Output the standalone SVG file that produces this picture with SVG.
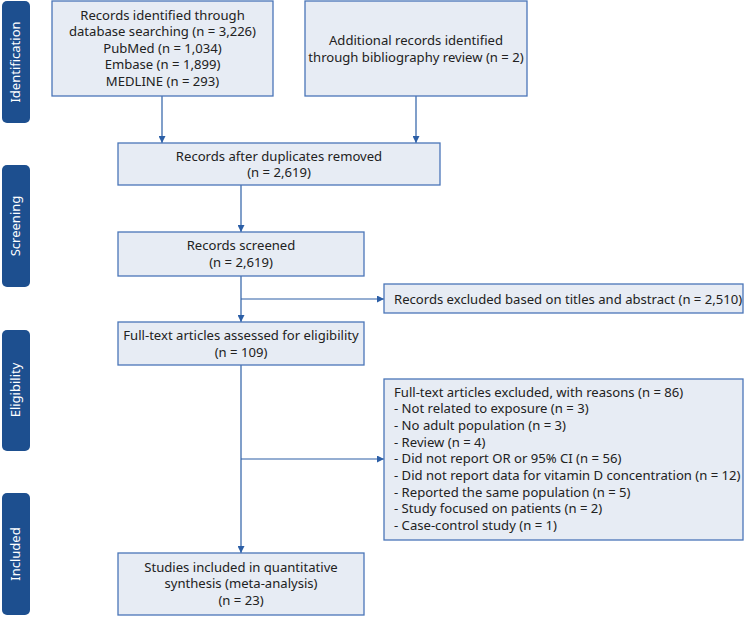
<svg xmlns="http://www.w3.org/2000/svg" width="744" height="617" viewBox="0 0 744 617">
<defs>
<style>
.box{fill:#e7ecf4;stroke:#4a76b8;stroke-width:1.3}
.bar{fill:#1d4f8f}
.t{font-family:"Noto Sans","Open Sans",sans-serif;font-size:13.1px;fill:#222}
.c{text-anchor:middle}
.side{font-family:"Noto Sans","Open Sans",sans-serif;font-size:13px;fill:#fff;text-anchor:middle}
.ln{fill:none;stroke:#2c5fa6;stroke-width:1.2}
</style>
<marker id="ah" viewBox="0 0 8 8" refX="8" refY="4" markerWidth="7" markerHeight="7" markerUnits="userSpaceOnUse" orient="auto">
<path d="M0,0 L8,4 L0,8 z" fill="#2c5fa6"/>
</marker>
</defs>
<rect width="744" height="617" fill="#fff"/>
<g id="phases">
<g id="phase-identification"><rect class="bar" x="2" y="1" width="28" height="122" rx="5"/><text class="side" transform="translate(20,62) rotate(-90)">Identification</text></g>
<g id="phase-screening"><rect class="bar" x="2" y="165" width="28" height="122" rx="5"/><text class="side" transform="translate(20,226) rotate(-90)">Screening</text></g>
<g id="phase-eligibility"><rect class="bar" x="2" y="330" width="28" height="121" rx="5"/><text class="side" transform="translate(20,390) rotate(-90)">Eligibility</text></g>
<g id="phase-included"><rect class="bar" x="2" y="493" width="28" height="122" rx="5"/><text class="side" transform="translate(20,554) rotate(-90)">Included</text></g>
</g>
<g id="connectors">
<line class="ln" x1="162" y1="96" x2="162" y2="143" marker-end="url(#ah)"/>
<line class="ln" x1="416" y1="96" x2="416" y2="143" marker-end="url(#ah)"/>
<line class="ln" x1="241" y1="185" x2="241" y2="232" marker-end="url(#ah)"/>
<line class="ln" x1="241" y1="276" x2="241" y2="322" marker-end="url(#ah)"/>
<line class="ln" x1="241" y1="299" x2="384" y2="299" marker-end="url(#ah)"/>
<line class="ln" x1="241" y1="365" x2="241" y2="553" marker-end="url(#ah)"/>
<line class="ln" x1="241" y1="459" x2="384" y2="459" marker-end="url(#ah)"/>
</g>
<g id="n1"><rect class="box" x="52" y="1" width="221" height="95"/>
<text class="t c" x="162.5" y="19.5">Records identified through</text>
<text class="t c" x="162.5" y="36">database searching (n = 3,226)</text>
<text class="t c" x="162.5" y="52.5">PubMed (n = 1,034)</text>
<text class="t c" x="162.5" y="69">Embase (n = 1,899)</text>
<text class="t c" x="162.5" y="85.5">MEDLINE (n = 293)</text></g>
<g id="n2"><rect class="box" x="305" y="1" width="222" height="95"/>
<text class="t c" x="416" y="45">Additional records identified</text>
<text class="t c" x="416" y="61.5">through bibliography review (n = 2)</text></g>
<g id="n3"><rect class="box" x="118" y="143" width="322" height="42"/>
<text class="t c" x="279" y="160.5">Records after duplicates removed</text>
<text class="t c" x="279" y="177">(n = 2,619)</text></g>
<g id="n4"><rect class="box" x="118" y="232" width="246" height="44"/>
<text class="t c" x="241" y="249.5">Records screened</text>
<text class="t c" x="241" y="266.5">(n = 2,619)</text></g>
<g id="n5"><rect class="box" x="384" y="284" width="359" height="29"/>
<text class="t" x="394" y="303.5">Records excluded based on titles and abstract (n = 2,510)</text></g>
<g id="n6"><rect class="box" x="118" y="322" width="246" height="43"/>
<text class="t c" x="241" y="339.5">Full-text articles assessed for eligibility</text>
<text class="t c" x="241" y="356.5">(n = 109)</text></g>
<g id="n7"><rect class="box" x="384" y="379" width="359" height="161"/>
<text class="t" x="394" y="396.7">Full-text articles excluded, with reasons (n = 86)</text>
<text class="t" x="394" y="413.3">- Not related to exposure (n = 3)</text>
<text class="t" x="394" y="430">- No adult population (n = 3)</text>
<text class="t" x="394" y="446.6">- Review (n = 4)</text>
<text class="t" x="394" y="463.3">- Did not report OR or 95% CI (n = 56)</text>
<text class="t" x="394" y="480">- Did not report data for vitamin D concentration (n = 12)</text>
<text class="t" x="394" y="496.6">- Reported the same population (n = 5)</text>
<text class="t" x="394" y="513.3">- Study focused on patients (n = 2)</text>
<text class="t" x="394" y="530">- Case-control study (n = 1)</text></g>
<g id="n8"><rect class="box" x="118" y="553" width="246" height="62"/>
<text class="t c" x="241" y="571.5">Studies included in quantitative</text>
<text class="t c" x="241" y="588">synthesis (meta-analysis)</text>
<text class="t c" x="241" y="604.5">(n = 23)</text></g>
</svg>
